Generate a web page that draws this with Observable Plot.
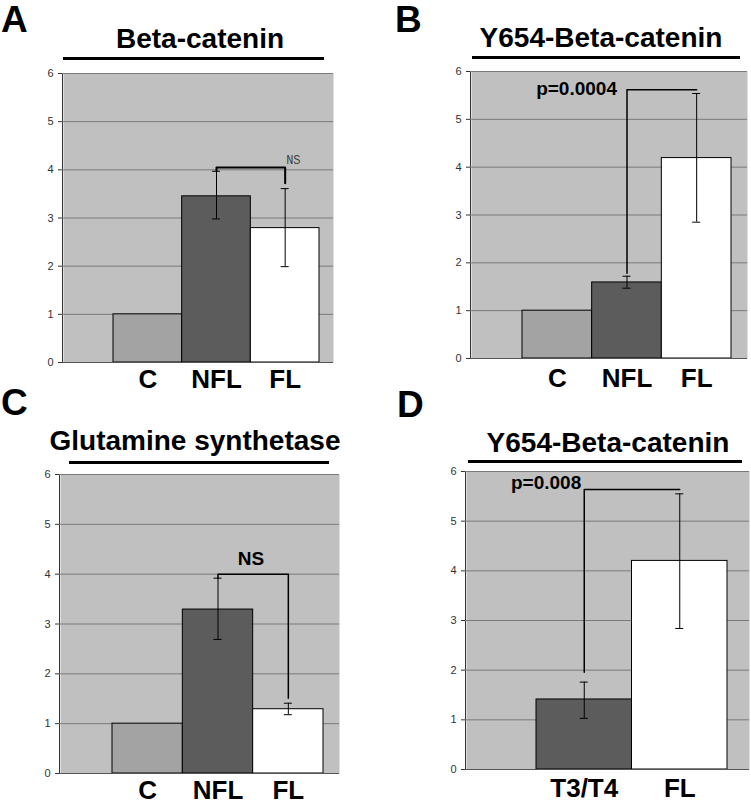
<!DOCTYPE html>
<html><head><meta charset="utf-8">
<script src="https://cdn.jsdelivr.net/npm/d3@7"></script>
<script src="https://cdn.jsdelivr.net/npm/@observablehq/plot@0.6"></script>
<style>
body{margin:0;background:#fff;}
#root{position:relative;width:751px;height:806px;overflow:hidden;font-family:"Liberation Sans",Arial,sans-serif;background:#fff;}
.abs{position:absolute;}
.letter{font-size:37px;font-weight:bold;line-height:37px;color:#000;}
.title{font-size:28px;font-weight:bold;line-height:28px;text-align:center;white-space:nowrap;color:#000;}
.uline{height:3px;background:#000;}
g[aria-label="category labels"] text{letter-spacing:1.5px;}
</style></head>
<body><div id="root"></div>
<script>
// ---- data ----
const yTicks = [0, 1, 2, 3, 4, 5, 6];
const catsABC = ["C", "NFL", "FL"];
const catsD = ["T3/T4", "FL"];
const fillsABC = ["#a3a3a3", "#5c5c5c", "#ffffff"];
const fillsD = ["#5c5c5c", "#ffffff"];

const meanA = [1.0, 3.45, 2.79];
const loA = [null, 2.98, 1.99];
const hiA = [null, 3.97, 3.61];

const meanB = [1.0, 1.59, 4.19];
const loB = [null, 1.47, 2.85];
const hiB = [null, 1.72, 5.54];

const meanC = [1.0, 3.29, 1.29];
const loC = [null, 2.69, 1.18];
const hiC = [null, 3.92, 1.41];

const meanD = [1.41, 4.2];
const loD = [1.03, 2.84];
const hiD = [1.76, 5.55];

const bracketA_x = ["NFL", "NFL", "FL", "FL"], bracketA_y = [3.97, 4.05, 4.05, 3.72];
const bracketB_x = ["NFL", "NFL", "FL"], bracketB_y = [1.78, 5.62, 5.62];
const bracketC_x = ["NFL", "NFL", "FL", "FL"], bracketC_y = [3.92, 4.0, 4.0, 1.51];
const bracketD_x = ["T3/T4", "T3/T4", "FL"], bracketD_y = [1.96, 5.64, 5.64];

const titles = ["Beta-catenin", "Y654-Beta-catenin", "Glutamine synthetase", "Y654-Beta-catenin"];
const letters = ["A", "B", "C", "D"];

// ---- drawing ----
const root = document.getElementById("root");
const FONT = '"Liberation Sans", Arial, sans-serif';

function panel(o) {
  const rows = o.cats.map((c, i) => ({cat: c, v: o.mean[i], lo: o.lo[i], hi: o.hi[i]}));
  const err = rows.filter(d => d.lo != null);
  const bw = (o.xRange[1] - o.xRange[0]) / o.cats.length;
  const inset = (bw - 8) / 2;
  const br = o.brX.map((x, i) => ({x, y: o.brY[i]}));
  const plot = Plot.plot({
    width: o.width, height: o.height,
    marginLeft: o.m[0], marginRight: o.m[1], marginTop: o.m[2], marginBottom: o.m[3],
    style: {fontFamily: FONT, fontSize: "11px", color: "#333", background: "transparent", overflow: "visible"},
    x: {type: "band", domain: o.cats, range: o.xRange, padding: 0, round: false, axis: null},
    y: {domain: [0, 6], ticks: 6, tickSize: 4, tickPadding: 5, line: true, label: null, grid: false},
    color: {domain: o.cats, range: o.fills},
    marks: [
      Plot.frame({fill: "#c0c0c0", insetLeft: 1}),
      Plot.ruleY(yTicks.filter(t => t > 0), {stroke: "#7a7a7a"}),
      Plot.barY(rows, {x: "cat", y: "v", fill: "cat", stroke: "#000", strokeWidth: 1}),
      Plot.ruleY([0], {stroke: "#555"}),
      Plot.ruleX(err, {x: "cat", y1: "lo", y2: "hi", stroke: "#000", strokeWidth: 1}),
      Plot.tickY(err, {x: "cat", y: "lo", insetLeft: inset, insetRight: inset, stroke: "#000"}),
      Plot.tickY(err, {x: "cat", y: "hi", insetLeft: inset, insetRight: inset, stroke: "#000"}),
      Plot.line(br, {x: "x", y: "y", stroke: "#000", strokeWidth: o.brW}),
      Plot.text([o.note], {x: "x", y: "y", text: "t", ...o.noteStyle}),
      Plot.text(rows, {x: "cat", text: "cat", frameAnchor: "bottom", lineAnchor: "middle", dy: o.labDy, fontSize: 26,
        fontWeight: "bold", fill: "#000", fontFamily: FONT, ariaLabel: "category labels"})
    ]
  });
  const wrap = document.createElement("div");
  wrap.className = "abs";
  wrap.style.left = o.left + "px";
  wrap.style.top = o.top + "px";
  wrap.style.width = o.width + "px";
  wrap.style.height = o.height + "px";
  wrap.appendChild(plot);
  root.appendChild(wrap);
}

panel({cats: catsABC, mean: meanA, lo: loA, hi: hiA, fills: fillsABC,
  width: 375, height: 400, m: [62, 42, 73, 38], xRange: [113, 319], left: 0, top: 0, labDy: 17.5,
  brX: bracketA_x, brY: bracketA_y, brW: 2,
  note: {x: "FL", y: 4.05, t: "NS"},
  noteStyle: {textAnchor: "start", dx: 1, dy: -7, fontSize: 12, fontFamily: '"Liberation Mono", "DejaVu Sans Mono", monospace', fill: "#444"}});

panel({cats: catsABC, mean: meanB, lo: loB, hi: hiB, fills: fillsABC,
  width: 376, height: 400, m: [95, 4, 71, 42], xRange: [147, 356], left: 375, top: 0, labDy: 20.5,
  brX: bracketB_x, brY: bracketB_y, brW: 1.5,
  note: {x: "NFL", y: 5.62, t: "p=0.0004"},
  noteStyle: {textAnchor: "end", dx: -10, dy: -1, fontSize: 19, fontWeight: "bold", fontFamily: FONT, fill: "#000"}});

panel({cats: catsABC, mean: meanC, lo: loC, hi: hiC, fills: fillsABC,
  width: 375, height: 406, m: [59, 36, 74, 33], xRange: [112, 323], left: 0, top: 400, labDy: 17.5,
  brX: bracketC_x, brY: bracketC_y, brW: 1.5,
  note: {x: "NFL", y: 4.0, t: "NS"},
  noteStyle: {textAnchor: "middle", dx: 33, dy: -15, fontSize: 19, fontWeight: "bold", fontFamily: FONT, fill: "#000"}});

panel({cats: catsD, mean: meanD, lo: loD, hi: hiD, fills: fillsD,
  width: 376, height: 406, m: [90, 2, 71, 37], xRange: [161, 352], left: 375, top: 400, labDy: 19.5,
  brX: bracketD_x, brY: bracketD_y, brW: 1.5,
  note: {x: "T3/T4", y: 5.64, t: "p=0.008"},
  noteStyle: {textAnchor: "end", dx: -3, dy: -6, fontSize: 19, fontWeight: "bold", fontFamily: FONT, fill: "#000"}});

// titles, underlines, panel letters
function addText(cls, text, left, baseline, fs, width) {
  const d = document.createElement("div");
  d.className = "abs " + cls;
  d.textContent = text;
  d.style.left = left + "px";
  d.style.top = Math.max(0, baseline - 0.8465 * fs) + "px";
  if (width) d.style.width = width + "px";
  root.appendChild(d);
}
function addLine(x1, x2, yc) {
  const d = document.createElement("div");
  d.className = "abs uline";
  d.style.left = x1 + "px";
  d.style.width = (x2 - x1) + "px";
  d.style.top = (yc - 1.5) + "px";
  root.appendChild(d);
}
const titleCenters = [[200, 49], [601, 48], [195, 451], [608, 453]];
titles.forEach((t, i) => {
  const [cx, bl] = titleCenters[i];
  addText("title", t, cx - 180, bl, 28, 360);
});
addLine(63, 324, 58);
addLine(472, 740, 57);
addLine(69, 329, 462.5);
addLine(468, 742, 461.3);

const letterPos = [[1, 32], [395, 32], [1, 415], [397, 417]];
letters.forEach((l, i) => addText("letter", l, letterPos[i][0], letterPos[i][1], 37));
</script></body></html>
